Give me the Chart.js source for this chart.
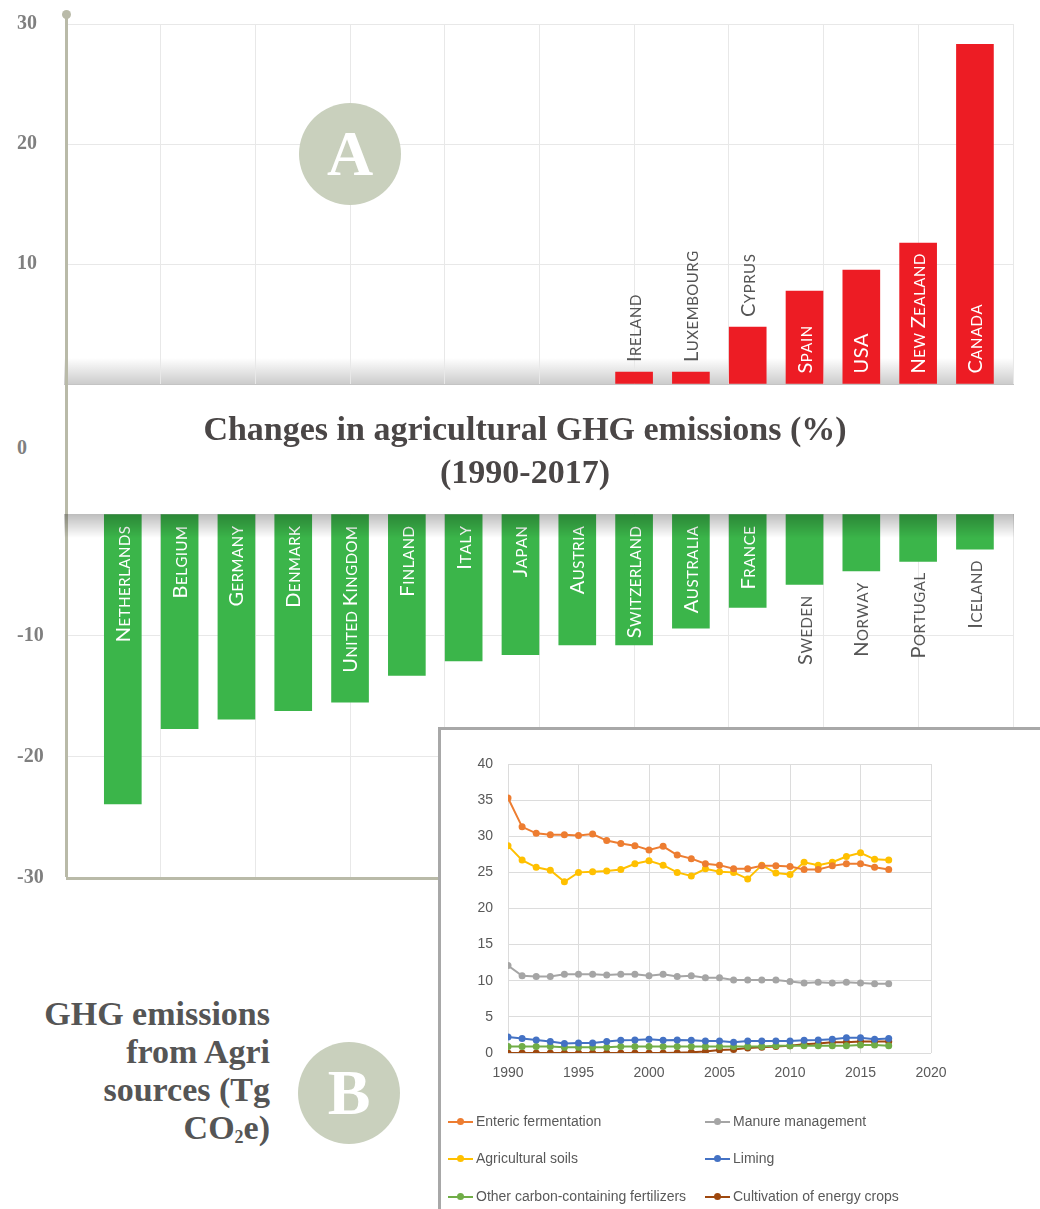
<!DOCTYPE html>
<html>
<head>
<meta charset="utf-8">
<script src="https://cdn.jsdelivr.net/npm/chart.js@4.4.1/dist/chart.umd.min.js"></script>
<style>
  body { margin: 0; background: #fff; }
  #page { position: relative; width: 1040px; height: 1209px; overflow: hidden; font-family: 'Liberation Serif', serif; }
  .abs { position: absolute; }
  #shelfTop { left: 64px; top: 358px; width: 950px; height: 26px; background: linear-gradient(to bottom, rgba(0,0,0,0), rgba(0,0,0,0.2)); border-bottom: 1px solid #c4c4c4; z-index: 0; }
  #shelfBottom { left: 64px; top: 514px; width: 950px; height: 24px; background: linear-gradient(to bottom, rgba(0,0,0,0.26), rgba(0,0,0,0)); z-index: 3; }
  #posWrap { left: 0; top: 0; z-index: 1; }
  #negWrap { left: 0; top: 502px; z-index: 1; }
  #axisLine { left: 65px; top: 14px; width: 3px; height: 863px; background: #b9baa8; z-index: 2; }
  #axisDot { left: 62px; top: 10px; width: 9px; height: 9px; border-radius: 50%; background: #b9baa8; z-index: 2; }
  #zeroLbl { left: 17px; top: 436px; font: bold 20px 'Liberation Serif', serif; color: #7f7f7f; }
  #title { left: 0; top: 407px; width: 1050px; text-align: center; font: bold 34px/43px 'Liberation Serif', serif; color: #4a4646; z-index: 2; }
  .badge { width: 102px; height: 102px; border-radius: 50%; background: #c9d0bd; color: #fff; font: bold 64px/102px 'Liberation Serif', serif; text-align: center; z-index: 4; }
  #badgeA { left: 299px; top: 103px; }
  #badgeB { left: 298px; top: 1042px; }
  #sideText { left: 0; top: 995px; width: 270px; text-align: right; font: bold 34px/38px 'Liberation Serif', serif; color: #555; }
  #sideText sub { font-size: 18px; vertical-align: -4px; line-height: 0; }
  #inset { left: 438px; top: 727px; width: 602px; height: 482px; background: #fff; border-left: 3px solid #a8a8a8; border-top: 3px solid #a8a8a8; z-index: 5; }
  #inset canvas { position: absolute; left: 0; top: 0; filter: blur(0.4px); }
  .leg { position: absolute; font: 14px 'Liberation Sans', sans-serif; color: #595959; white-space: nowrap; filter: blur(0.3px); }
  .leg .mk { display: inline-block; position: relative; width: 25px; height: 10px; margin-right: 3px; vertical-align: -1px; }
  .leg .mk b { position: absolute; left: 0; top: 4px; width: 25px; height: 2px; }
  .leg .mk i { position: absolute; left: 9px; top: 1px; width: 7px; height: 7px; border-radius: 50%; }
</style>
</head>
<body>
<div id="page">
  <div id="shelfTop" class="abs"></div>
  <div id="posWrap" class="abs"><canvas id="posChart" width="1040" height="400"></canvas></div>
  <div id="negWrap" class="abs"><canvas id="negChart" width="1040" height="400"></canvas></div>
  <div id="shelfBottom" class="abs"></div>
  <div id="axisLine" class="abs"></div>
  <div id="axisDot" class="abs"></div>
  <div id="zeroLbl" class="abs">0</div>
  <div id="title" class="abs">Changes in agricultural GHG emissions (%)<br>(1990-2017)</div>
  <div id="badgeA" class="abs badge">A</div>
  <div id="sideText" class="abs">GHG emissions<br>from Agri<br>sources (Tg<br>CO<sub>2</sub>e)</div>
  <div id="badgeB" class="abs badge">B</div>
  <div id="inset" class="abs"><canvas id="lineChart" width="599" height="360"></canvas></div>
</div>

<script>
// Panel A: change in agricultural GHG emissions 1990-2017 (%)
const fallCountries = ['Netherlands', 'Belgium', 'Germany', 'Denmark', 'United Kingdom', 'Finland', 'Italy', 'Japan',
  'Austria', 'Switzerland', 'Australia', 'France', 'Sweden', 'Norway', 'Portugal', 'Iceland'];
const fallValues = [-23.9, -17.7, -16.9, -16.2, -15.5, -13.3, -12.1, -11.6, -10.8, -10.8, -9.4, -7.7, -5.8, -4.7, -3.9, -2.9];
const riseCountries = ['Ireland', 'Luxembourg', 'Cyprus', 'Spain', 'USA', 'New Zealand', 'Canada'];
const riseValues = [1.0, 1.0, 4.75, 7.75, 9.5, 11.75, 28.3];

// Panel B: GHG emissions from agricultural sources (Tg CO2e)
const years = [1990, 1991, 1992, 1993, 1994, 1995, 1996, 1997, 1998, 1999, 2000, 2001, 2002, 2003,
  2004, 2005, 2006, 2007, 2008, 2009, 2010, 2011, 2012, 2013, 2014, 2015, 2016, 2017];
const enteric = [35.3, 31.3, 30.4, 30.2, 30.2, 30.1, 30.3, 29.4, 29.0, 28.7, 28.1, 28.6, 27.4, 26.9,
  26.2, 26.0, 25.5, 25.5, 25.9, 25.9, 25.8, 25.4, 25.4, 25.9, 26.2, 26.2, 25.7, 25.4];
const soils = [28.7, 26.7, 25.7, 25.3, 23.7, 25.0, 25.1, 25.2, 25.4, 26.2, 26.6, 26.0, 25.0, 24.5,
  25.5, 25.1, 25.0, 24.1, 26.0, 24.9, 24.7, 26.4, 26.0, 26.4, 27.2, 27.7, 26.8, 26.7];
const manure = [12.1, 10.7, 10.6, 10.6, 10.9, 10.9, 10.9, 10.8, 10.9, 10.9, 10.7, 10.9, 10.6, 10.7,
  10.4, 10.4, 10.1, 10.1, 10.1, 10.1, 9.9, 9.7, 9.8, 9.7, 9.8, 9.7, 9.6, 9.6];
const liming = [2.2, 2.0, 1.8, 1.6, 1.3, 1.4, 1.4, 1.6, 1.75, 1.8, 1.9, 1.75, 1.8, 1.75,
  1.65, 1.65, 1.5, 1.65, 1.65, 1.65, 1.65, 1.75, 1.8, 1.9, 2.1, 2.1, 1.9, 2.0];
const otherFert = [0.9, 0.9, 0.9, 0.9, 0.8, 0.8, 0.8, 0.8, 0.9, 0.9, 0.9, 0.9, 0.9, 0.9,
  0.9, 0.9, 0.9, 0.9, 0.9, 1.0, 1.0, 1.0, 1.0, 1.0, 1.0, 1.1, 1.1, 1.0];
const energyCrops = [0, 0, 0, 0, 0, 0, 0, 0, 0, 0, 0, 0, 0.05, 0.1,
  0.2, 0.4, 0.5, 0.7, 0.8, 0.9, 1.0, 1.2, 1.3, 1.5, 1.5, 1.6, 1.6, 1.6];
const seriesNames = ['Enteric fermentation', 'Manure management', 'Agricultural soils', 'Liming',
  'Other carbon-containing fertilizers', 'Cultivation of energy crops'];
const seriesData = [enteric, manure, soils, liming, otherFert, energyCrops];
const seriesColors = ['#ed7d31', '#a5a5a5', '#ffc000', '#4472c4', '#70ad47', '#9e480e'];

const RED = '#ed1c24', GREEN = '#3bb54a';
const BIG = '20px Lato', SMALL = '15px Lato';

function tickVal(c) { return c.tick ? c.tick.value : null; }

// small-caps country names, rotated, inside the bar when they fit
function capsRuns(text) {
  return Array.from(text).map(function(ch) {
    const big = ch !== ' ' && ch === ch.toUpperCase();
    return { ch: ch.toUpperCase(), font: big ? BIG : SMALL };
  });
}
function capsWidth(ctx, runs) {
  let w = 0;
  runs.forEach(function(r) { ctx.font = r.font; w += ctx.measureText(r.ch).width + 0.5; });
  return w;
}
const capsLabels = {
  id: 'capsLabels',
  afterDatasetsDraw: function(chart, args, opts) {
    const ctx = chart.ctx;
    chart.getDatasetMeta(0).data.forEach(function(bar, i) {
      const runs = capsRuns(opts.names[i]);
      const w = capsWidth(ctx, runs);
      const len = Math.abs(bar.base - bar.y);
      const inside = w + 6 <= len;
      const up = bar.y < bar.base;
      let anchor;
      if (up) anchor = inside ? bar.base - 10 : bar.y - 10;
      else anchor = inside ? bar.base + 11 : bar.y + 11;
      ctx.save();
      ctx.translate(bar.x + 7, anchor);
      ctx.rotate(-Math.PI / 2);
      ctx.fillStyle = inside ? '#ffffff' : '#555555';
      ctx.textBaseline = 'alphabetic';
      ctx.textAlign = 'left';
      let x = up ? 0 : -w;
      runs.forEach(function(r) {
        ctx.font = r.font;
        ctx.fillText(r.ch, x, 0);
        x += ctx.measureText(r.ch).width + 0.5;
      });
      ctx.restore();
    });
  }
};

function barPanel(id, values, names, color, yMin, yMax, pad) {
  const first = fallCountries.length - values.length;
  return new Chart(document.getElementById(id), {
    type: 'bar',
    data: {
      datasets: [{
        data: values.map(function(v, i) { return { x: first + i, y: v }; }),
        backgroundColor: color,
        barThickness: 37
      }]
    },
    options: {
      responsive: false,
      animation: false,
      layout: { padding: pad },
      plugins: { legend: { display: false }, tooltip: { enabled: false }, capsLabels: { names: names } },
      scales: {
        x: { type: 'linear', min: -1, max: 15.67, offset: false, grid: { offset: false }, display: false },
        xg: {
          type: 'linear', position: 'bottom', min: 0, max: 10, offset: false,
          ticks: { display: false, stepSize: 1 },
          grid: { offset: false, drawTicks: false, color: function(c) { return tickVal(c) === 0 ? 'rgba(0,0,0,0)' : '#e8e8e8'; } },
          border: { display: false },
          afterFit: function(s) { s.height = 0; }
        },
        y: {
          min: yMin, max: yMax,
          ticks: {
            stepSize: 10, padding: 0, crossAlign: 'far', color: '#7f7f7f',
            font: { family: 'Liberation Serif', weight: 'bold', size: 20 },
            callback: function(v) { return v === 0 ? '' : v; }
          },
          grid: {
            drawTicks: false,
            color: function(c) {
              const v = tickVal(c);
              if (v === 0) return 'rgba(0,0,0,0)';
              return v === -30 ? '#b9baa8' : '#e8e8e8';
            },
            lineWidth: function(c) { return tickVal(c) === -30 ? 3 : 1; }
          },
          border: { display: false },
          afterFit: function(s) { s.width = 49; }
        }
      }
    },
    plugins: [capsLabels]
  });
}

barPanel('posChart', riseValues, riseCountries, RED, 0, 30, { left: 17, right: 27, top: 24, bottom: 16 });
barPanel('negChart', fallValues, fallCountries, GREEN, -30, 0, { left: 17, right: 27, top: 12, bottom: 24 });

// Panel B line chart
const tickFont = { family: 'Liberation Sans', size: 14 };
new Chart(document.getElementById('lineChart'), {
  type: 'line',
  data: {
    datasets: seriesNames.map(function(name, k) {
      return {
        label: name,
        data: years.map(function(y, i) { return { x: y, y: seriesData[k][i] }; }),
        borderColor: seriesColors[k],
        backgroundColor: seriesColors[k],
        borderWidth: 2,
        pointRadius: 3.5,
        pointBorderWidth: 0
      };
    })
  },
  options: {
    responsive: false,
    animation: false,
    layout: { padding: { left: 0, right: 109, top: 34, bottom: 0 } },
    plugins: { legend: { display: false }, tooltip: { enabled: false } },
    scales: {
      x: {
        type: 'linear', min: 1990, max: 2020,
        ticks: { stepSize: 5, padding: 12, color: '#595959', font: tickFont, callback: function(v) { return String(v); } },
        grid: { color: '#dcdcdc', drawTicks: false },
        border: { display: false },
        afterFit: function(s) { s.height = 37; }
      },
      y: {
        min: 0, max: 40,
        ticks: { stepSize: 5, padding: 15, color: '#595959', font: tickFont },
        grid: { color: '#dcdcdc', drawTicks: false },
        border: { display: false },
        afterFit: function(s) { s.width = 67; }
      }
    }
  }
});

// legend for panel B, two columns
const legCols = [448, 705];
const legRows = [1122, 1159, 1197];
seriesNames.forEach(function(name, k) {
  const d = document.createElement('div');
  d.className = 'leg';
  d.style.left = legCols[k % 2] + 'px';
  d.style.top = (legRows[Math.floor(k / 2)] - 9) + 'px';
  d.style.zIndex = 6;
  d.innerHTML = '<span class="mk"><b style="background:' + seriesColors[k] + '"></b><i style="background:' +
    seriesColors[k] + '"></i></span>' + name;
  document.getElementById('page').appendChild(d);
});
</script>
</body>
</html>
